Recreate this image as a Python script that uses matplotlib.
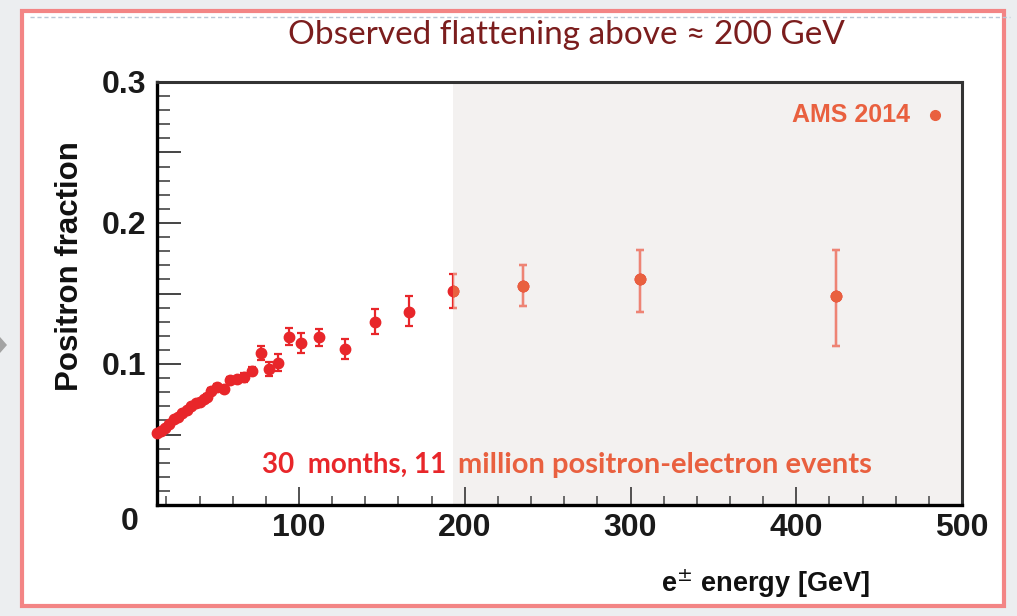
import matplotlib
matplotlib.use("Agg")
import matplotlib.pyplot as plt
from matplotlib.patches import Rectangle, Polygon
from matplotlib.lines import Line2D
from matplotlib.ticker import MultipleLocator, FixedLocator, FuncFormatter
import matplotlib.transforms as mtransforms

# AMS 2014 positron fraction
energy = [14.5, 16.6, 19.0, 21.6, 24.6, 27.0, 29.6, 32.7, 35.1, 37.7,
          40.3, 42.7, 44.7, 47.1, 50.3, 54.7, 58.4, 62.4, 66.8, 71.8,
          76.9, 81.9, 87.5, 93.9, 101.0, 112.0, 128.0, 145.8, 166.5,
          193.0, 235.0, 306.0, 424.0]
fraction = [0.0508, 0.0527, 0.0548, 0.0574, 0.0608, 0.0626, 0.0650, 0.0674,
            0.0702, 0.0721, 0.0733, 0.0750, 0.0768, 0.0811, 0.0839, 0.0820,
            0.0887, 0.0891, 0.0905, 0.0950, 0.1076, 0.0962, 0.1009, 0.1194,
            0.1147, 0.1189, 0.1106, 0.1300, 0.1370, 0.1520, 0.1550, 0.1600,
            0.1480]
err_lo = [0.001, 0.001, 0.001, 0.001, 0.001, 0.001, 0.001, 0.001, 0.0015,
          0.0015, 0.0015, 0.0015, 0.002, 0.002, 0.002, 0.002, 0.002, 0.002,
          0.003, 0.003, 0.005, 0.005, 0.006, 0.006, 0.007, 0.006, 0.007,
          0.009, 0.010, 0.012, 0.014, 0.023, 0.035]
err_hi = [0.001, 0.001, 0.001, 0.001, 0.001, 0.001, 0.001, 0.001, 0.0015,
          0.0015, 0.0015, 0.0015, 0.002, 0.002, 0.002, 0.002, 0.002, 0.002,
          0.003, 0.003, 0.005, 0.005, 0.006, 0.006, 0.007, 0.006, 0.007,
          0.009, 0.011, 0.012, 0.015, 0.021, 0.033]

flat_start = 193.0
x_major = [100, 200, 300, 400, 500]

RED = "#e8262a"
ORANGE = "#e9603f"
ORANGE_BAR = "#ee8474"
W, H = 1017, 616

fig = plt.figure(figsize=(W / 100, H / 100), dpi=100, facecolor="#eceef0")

# slide card with pink border
fig.patches.append(Rectangle((22 / W, 1 - 606 / H), 982 / W, 595 / H,
                             transform=fig.transFigure, facecolor="white",
                             edgecolor="#f38585", linewidth=3, zorder=-5))
fig.patches.append(Polygon([(0, 1 - 337 / H), (7 / W, 1 - 345 / H), (0, 1 - 353 / H)],
                           closed=True, transform=fig.transFigure,
                           facecolor="#a3a3a3", edgecolor="none", zorder=-5))
fig.add_artist(Line2D([30 / W, 1010 / W], [1 - 17 / H, 1 - 17 / H],
                      transform=fig.transFigure, color="#b9c7d6",
                      linewidth=1, linestyle=(0, (3, 2)), zorder=-4))

fig.text(566 / W, 1 - 35 / H, "Observed flattening above \u2248 200 GeV",
         ha="center", va="center", fontsize=24, color="#7b1d1d",
         family="Lato")

ax = fig.add_axes([157 / W, 1 - 505 / H, (962 - 157) / W, (505 - 82) / H])
ax.set_facecolor("none")
ax.set_xlim(14.3, 500)
ax.set_ylim(0, 0.3)

span = ax.axvspan(flat_start, 500, facecolor="#f3f1f0", edgecolor="none", zorder=0)

kw = dict(fmt="o", markersize=7.5, elinewidth=1.6, capsize=3, capthick=1.6, zorder=3)
red = ax.errorbar(energy, fraction, yerr=[err_lo, err_hi], color=RED,
                  ecolor=RED, **kw)
for art in red.get_children():
    art.set_clip_on(False)

orange = ax.errorbar(energy, fraction, yerr=[err_lo, err_hi], color=ORANGE,
                     ecolor=ORANGE_BAR, **kw)
for art in orange.get_children():
    art.set_clip_path(span)

# axes styling (ROOT-like)
for side in ["left", "bottom"]:
    ax.spines[side].set_linewidth(2.4)
for side in ["top", "right"]:
    ax.spines[side].set_linewidth(2.2)
    ax.spines[side].set_color("#333333")

ax.xaxis.set_major_locator(FixedLocator(x_major))
ax.xaxis.set_minor_locator(MultipleLocator(20))
ax.yaxis.set_major_locator(MultipleLocator(0.05))
ax.yaxis.set_minor_locator(MultipleLocator(0.01))
ax.yaxis.set_major_formatter(FuncFormatter(
    lambda v, p: "" if abs(round(v * 20) % 2) == 1 or abs(v) < 1e-9 else f"{v:.1f}"))

ax.tick_params(which="both", direction="in", top=False, right=False,
               color="#444444")
ax.tick_params(axis="x", which="major", length=13, width=1.3, pad=6)
ax.tick_params(axis="x", which="minor", length=6.5, width=1.1)
ax.tick_params(axis="y", which="major", length=17, width=1.4, pad=8)
ax.tick_params(axis="y", which="minor", length=9, width=1.2)
for lab in ax.get_xticklabels() + ax.get_yticklabels():
    lab.set_fontsize(23)
    lab.set_fontweight("bold")
    lab.set_family("Liberation Sans")
    lab.set_color("#1a1a1a")

# the lone "0" sitting at x = 0, below the axis corner
trans = mtransforms.blended_transform_factory(ax.transData, ax.transAxes)
ax.text(-2, -0.04, "0", transform=trans, ha="center", va="center",
        fontsize=23, fontweight="bold", family="Liberation Sans",
        color="#1a1a1a", clip_on=False)

fig.text(70 / W, 1 - 266 / H, "Positron fraction", rotation=90,
         ha="center", va="center", fontsize=22.5, fontweight="bold",
         family="Liberation Sans", color="#111111")
fig.text(870 / W, 1 - 584 / H, r"e$^{\pm}$ energy [GeV]", ha="right",
         va="center", fontsize=19.5, fontweight="bold",
         family="Liberation Sans", color="#111111")

# legend entry
ax.text(0.935, 0.922, "AMS 2014", transform=ax.transAxes, ha="right",
        va="center", fontsize=18, fontweight="bold", color=ORANGE,
        family="Liberation Sans")
ax.plot([0.966], [0.922], "o", transform=ax.transAxes, color=ORANGE,
        markersize=7, clip_on=False)

ax.text(0.13, 0.095, "30  months, 11", transform=ax.transAxes, ha="left",
        va="center", fontsize=20, fontweight="bold", color=RED, family="Lato")
ax.text(0.374, 0.095, "million positron-electron events",
        transform=ax.transAxes, ha="left", va="center", fontsize=21,
        fontweight="bold", color=ORANGE, family="Lato")

fig.savefig("out.png", dpi=100, facecolor=fig.get_facecolor())
